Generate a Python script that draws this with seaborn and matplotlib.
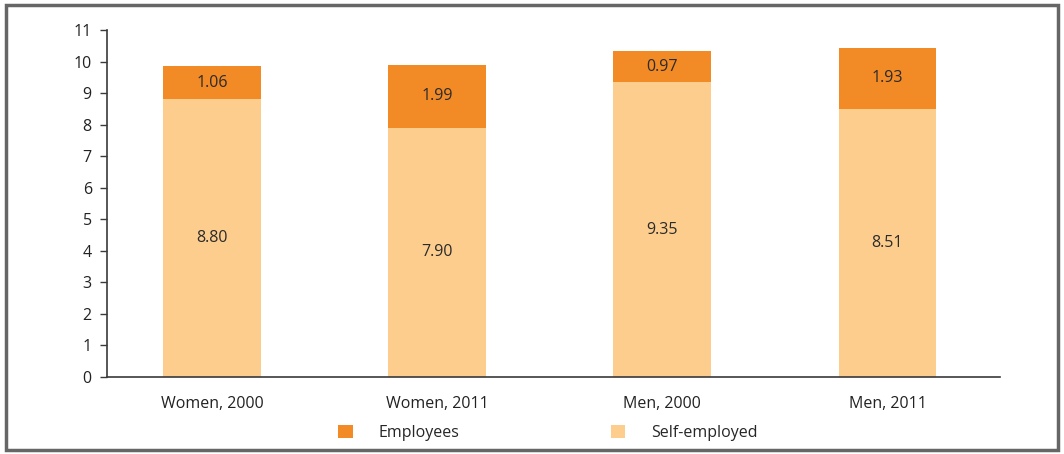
import matplotlib
matplotlib.use("Agg")
import matplotlib.pyplot as plt
import seaborn as sns
import pandas as pd
from matplotlib.patches import Rectangle, Patch

categories = ["Women, 2000", "Women, 2011", "Men, 2000", "Men, 2011"]
self_employed = [8.80, 7.90, 9.35, 8.51]
employees = [1.06, 1.99, 0.97, 1.93]
series_names = ["Employees", "Self-employed"]
yticks = list(range(0, 12))

c_emp = "#F28A26"
c_self = "#FDCD8E"

sns.set_theme(style="white")
plt.rcParams['font.family'] = ['Open Sans', 'DejaVu Sans']

df = pd.DataFrame({"cat": categories, "self": self_employed, "emp": employees})
df["total"] = df["self"] + df["emp"]

fig = plt.figure(figsize=(10.64, 4.54), dpi=100)
ax = fig.add_axes([0.1006, 0.1696, 0.8393, 0.7643])

sns.barplot(data=df, x="cat", y="total", color=c_emp, saturation=1, width=0.435,
            linewidth=0, edgecolor="none", ax=ax)
sns.barplot(data=df, x="cat", y="self", color=c_self, saturation=1, width=0.435,
            linewidth=0, edgecolor="none", ax=ax)

for i, (s, e) in enumerate(zip(self_employed, employees)):
    ax.text(i, s / 2, f"{s:.2f}", ha="center", va="center", fontsize=11.5, color="#2b2b2b")
    ax.text(i, s + e / 2, f"{e:.2f}", ha="center", va="center", fontsize=11.5, color="#2b2b2b")

ax.set_ylim(0, 11)
ax.set_xlim(-0.467, 3.5)
ax.set_yticks(yticks)
ax.set_xlabel("")
ax.set_ylabel("")
for sp in ["top", "right"]:
    ax.spines[sp].set_visible(False)
for sp in ["left", "bottom"]:
    ax.spines[sp].set_color("#3a3a3a")
    ax.spines[sp].set_linewidth(1.2)
ax.tick_params(axis="y", left=True, length=5, width=1, color="#3a3a3a", labelsize=11.5, labelcolor="#222222", pad=6)
ax.tick_params(axis="x", bottom=False, labelsize=11.5, labelcolor="#222222", pad=8)

handles = [Patch(facecolor=c_emp, edgecolor="none"), Patch(facecolor=c_self, edgecolor="none")]
fig.legend(handles, series_names, loc="center", bbox_to_anchor=(0.515, 0.046), ncol=2,
           frameon=False, fontsize=11.5, handlelength=0.9, handleheight=0.9,
           columnspacing=9.5, handletextpad=1.6)

fig.add_artist(Rectangle((0.006, 0.008), 0.988, 0.982, transform=fig.transFigure,
                         fill=False, edgecolor="#666666", linewidth=2.5))

fig.savefig("out.png", dpi=100)
